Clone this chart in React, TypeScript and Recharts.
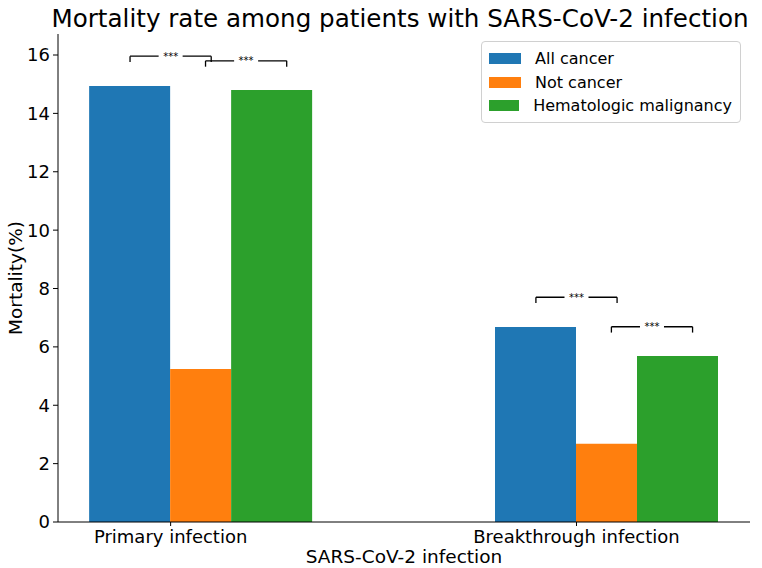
import { BarChart, Bar, XAxis, YAxis, ReferenceLine, Legend } from 'recharts';

// infection type (x categories)
const groups = ['Primary infection', 'Breakthrough infection'];

// mortality (%) per series
const allCancer = [14.94, 6.68];
const notCancer = [5.24, 2.68];
const hematologic = [14.8, 5.69];

const yTicks = [0, 2, 4, 6, 8, 10, 12, 14, 16];

// significance brackets, in axis units (x relative to the group tick)
const bracketGroup = [0, 0, 1, 1];
const bracketFrom = [-0.1, 0.086, -0.1, 0.086];
const bracketTo = [0.1, 0.286, 0.1, 0.286];
const bracketTop = [15.96, 15.8, 7.7, 6.69];
const bracketDrop = 0.2;

const series = [
  { key: 'all', name: 'All cancer', color: '#1f77b4', width: 0.2 },
  { key: 'not', name: 'Not cancer', color: '#ff7f0e', width: 0.15 },
  { key: 'heme', name: 'Hematologic malignancy', color: '#2ca02c', width: 0.2 },
];

const W = 762;
const H = 568;
const margin = { top: 34, right: 12, bottom: 16, left: 8 };
const yAxisWidth = 50;
const xDomain = [-0.2775, 1.4275];
const plotWidth = W - margin.left - margin.right - yAxisWidth;
const pxPerUnit = plotWidth / (xDomain[1] - xDomain[0]);

// bars sit from -0.2 to +0.35 around each tick; recharts centres the group on pos
const groupCenter = (-0.2 + 0.35) / 2;

const data = groups.map((g, i) => ({
  pos: i + groupCenter,
  name: g,
  all: allCancer[i],
  not: notCancer[i],
  heme: hematologic[i],
}));

const font = '"DejaVu Sans", sans-serif';

const StarLine = (props: any) => {
  const { x1, y1, x2, y2 } = props;
  const cx = (x1 + x2) / 2;
  return (
    <g>
      <line x1={x1} y1={y1} x2={x2} y2={y2} stroke="#000" strokeWidth={1.3} />
      <rect x={cx - 12} y={y1 - 4} width={24} height={8} fill="#fff" />
      <text x={cx} y={y1 + 3.5} textAnchor="middle" fontSize={10} fontFamily={font} fill="#000">
        ***
      </text>
    </g>
  );
};

const LegendBox = () => (
  <div
    style={{
      border: '1px solid #d0d0d0',
      borderRadius: 4,
      padding: '5px 8px 4px 7px',
      background: '#fff',
      fontFamily: font,
      fontSize: 16,
      color: '#000',
      width: 243,
      whiteSpace: 'nowrap',
    }}
  >
    {series.map((s) => (
      <div key={s.key} style={{ display: 'flex', alignItems: 'center', height: 23.5 }}>
        <span style={{ display: 'inline-block', width: 32, height: 11, background: s.color, marginRight: 14 }} />
        <span>{s.name}</span>
      </div>
    ))}
  </div>
);

export default function App() {
  return (
    <div style={{ position: 'absolute', left: 0, top: 0, width: W, height: H, background: '#fff' }}>
      <div
        style={{
          position: 'absolute',
          left: 0,
          width: 800,
          top: 4,
          textAlign: 'center',
          fontFamily: font,
          fontSize: 24.6,
          color: '#000',
          whiteSpace: 'nowrap',
        }}
      >
        Mortality rate among patients with SARS-CoV-2 infection
      </div>
      <div
        style={{
          position: 'absolute',
          left: 15,
          top: 278,
          transform: 'translate(-50%, -50%) rotate(-90deg)',
          fontFamily: font,
          fontSize: 18.5,
          color: '#000',
          whiteSpace: 'nowrap',
        }}
      >
        Mortality(%)
      </div>
      <div
        style={{
          position: 'absolute',
          left: 404,
          top: 546,
          transform: 'translateX(-50%)',
          fontFamily: font,
          fontSize: 18.5,
          color: '#000',
          whiteSpace: 'nowrap',
        }}
      >
        SARS-CoV-2 infection
      </div>
      <BarChart width={W} height={H} data={data} margin={margin} barGap={0} barCategoryGap={0}>
        <XAxis
          dataKey="pos"
          type="number"
          domain={xDomain}
          allowDataOverflow
          ticks={[0, 1]}
          tickFormatter={(v: number) => groups[Math.round(v)]}
          tick={{ fontSize: 18, fill: '#000', fontFamily: font }}
          tickSize={4}
          tickMargin={4}
          stroke="#000"
          height={30}
        />
        <YAxis
          type="number"
          domain={[0, 16.72]}
          allowDataOverflow
          ticks={yTicks}
          tick={{ fontSize: 18, fill: '#000', fontFamily: font }}
          tickSize={5}
          tickMargin={3}
          stroke="#000"
          width={yAxisWidth}
        />
        <Legend
          layout="vertical"
          align="center"
          verticalAlign="middle"
          wrapperStyle={{ left: 481, top: 41, width: 262 }}
          content={() => <LegendBox />}
        />
        {series.map((s) => (
          <Bar
            key={s.key}
            dataKey={s.key}
            name={s.name}
            fill={s.color}
            barSize={Math.round(s.width * pxPerUnit)}
            isAnimationActive={false}
          />
        ))}
        {bracketGroup.map((g, i) => {
          const x1 = g + bracketFrom[i];
          const x2 = g + bracketTo[i];
          const top = bracketTop[i];
          return [
            <ReferenceLine
              key={`l${i}`}
              segment={[{ x: x1, y: top }, { x: x1, y: top - bracketDrop }]}
              stroke="#000"
              strokeWidth={1.3}
            />,
            <ReferenceLine
              key={`r${i}`}
              segment={[{ x: x2, y: top }, { x: x2, y: top - bracketDrop }]}
              stroke="#000"
              strokeWidth={1.3}
            />,
            <ReferenceLine
              key={`t${i}`}
              segment={[{ x: x1, y: top }, { x: x2, y: top }]}
              shape={StarLine}
            />,
          ];
        })}
      </BarChart>
    </div>
  );
}
